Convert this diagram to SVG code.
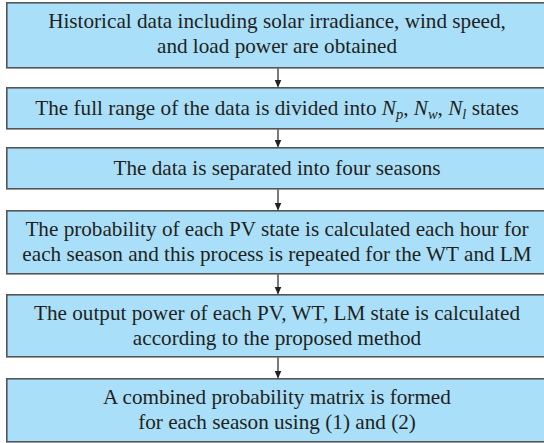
<svg xmlns="http://www.w3.org/2000/svg" width="544" height="443" viewBox="0 0 544 443">
<style>
.box{fill:#aadff9;stroke:#555;stroke-width:1.6}
.t{font-family:"Liberation Serif","Times New Roman",serif;font-size:21.2px;fill:#231f20;text-anchor:middle}
.s{font-style:italic;font-size:14.5px}
.i{font-style:italic}
.c{stroke:#222;stroke-width:1.2;fill:none}
</style>
<defs>
<marker id="ah" markerWidth="8" markerHeight="10" refX="7" refY="4" orient="auto" markerUnits="userSpaceOnUse" viewBox="0 0 8 8">
<path d="M0,0.5 L8,4 L0,7.5 Z" fill="#222"/>
</marker>
</defs>
<rect x="-1" y="-1" width="546" height="445" fill="#fff"/>
<g id="n1"><rect class="box" x="6.8" y="2.8" width="545" height="65"/>
<text class="t" x="277" y="28">Historical data including solar irradiance, wind speed,</text>
<text class="t" x="277" y="53">and load power are obtained</text></g>
<g id="n2"><rect class="box" x="6.8" y="87.8" width="545" height="41"/>
<text class="t" x="277" y="115">The full range of the data is divided into <tspan class="i">N</tspan><tspan class="s" dy="4">p</tspan><tspan dy="-4">, </tspan><tspan class="i">N</tspan><tspan class="s" dy="4">w</tspan><tspan dy="-4">, </tspan><tspan class="i">N</tspan><tspan class="s" dy="4">l</tspan><tspan dy="-4"> states</tspan></text></g>
<g id="n3"><rect class="box" x="6.8" y="147.8" width="545" height="41"/>
<text class="t" x="277" y="175">The data is separated into four seasons</text></g>
<g id="n4"><rect class="box" x="6.8" y="210.8" width="545" height="63"/>
<text class="t" x="277" y="236">The probability of each PV state is calculated each hour for</text>
<text class="t" x="277" y="261">each season and this process is repeated for the WT and LM</text></g>
<g id="n5"><rect class="box" x="6.8" y="294.8" width="545" height="62"/>
<text class="t" x="277" y="320">The output power of each PV, WT, LM state is calculated</text>
<text class="t" x="277" y="345">according to the proposed method</text></g>
<g id="n6"><rect class="box" x="6.8" y="378.8" width="545" height="63"/>
<text class="t" x="277" y="404">A combined probability matrix is formed</text>
<text class="t" x="277" y="429">for each season using (1) and (2)</text></g>
<g id="connectors">
<line class="c" x1="278" y1="68.5" x2="278" y2="86.5" marker-end="url(#ah)"/>
<line class="c" x1="278" y1="129.5" x2="278" y2="146.5" marker-end="url(#ah)"/>
<line class="c" x1="278" y1="189.5" x2="278" y2="209.5" marker-end="url(#ah)"/>
<line class="c" x1="278" y1="274.5" x2="278" y2="293.5" marker-end="url(#ah)"/>
<line class="c" x1="278" y1="357.5" x2="278" y2="377.5" marker-end="url(#ah)"/>
</g>
</svg>
